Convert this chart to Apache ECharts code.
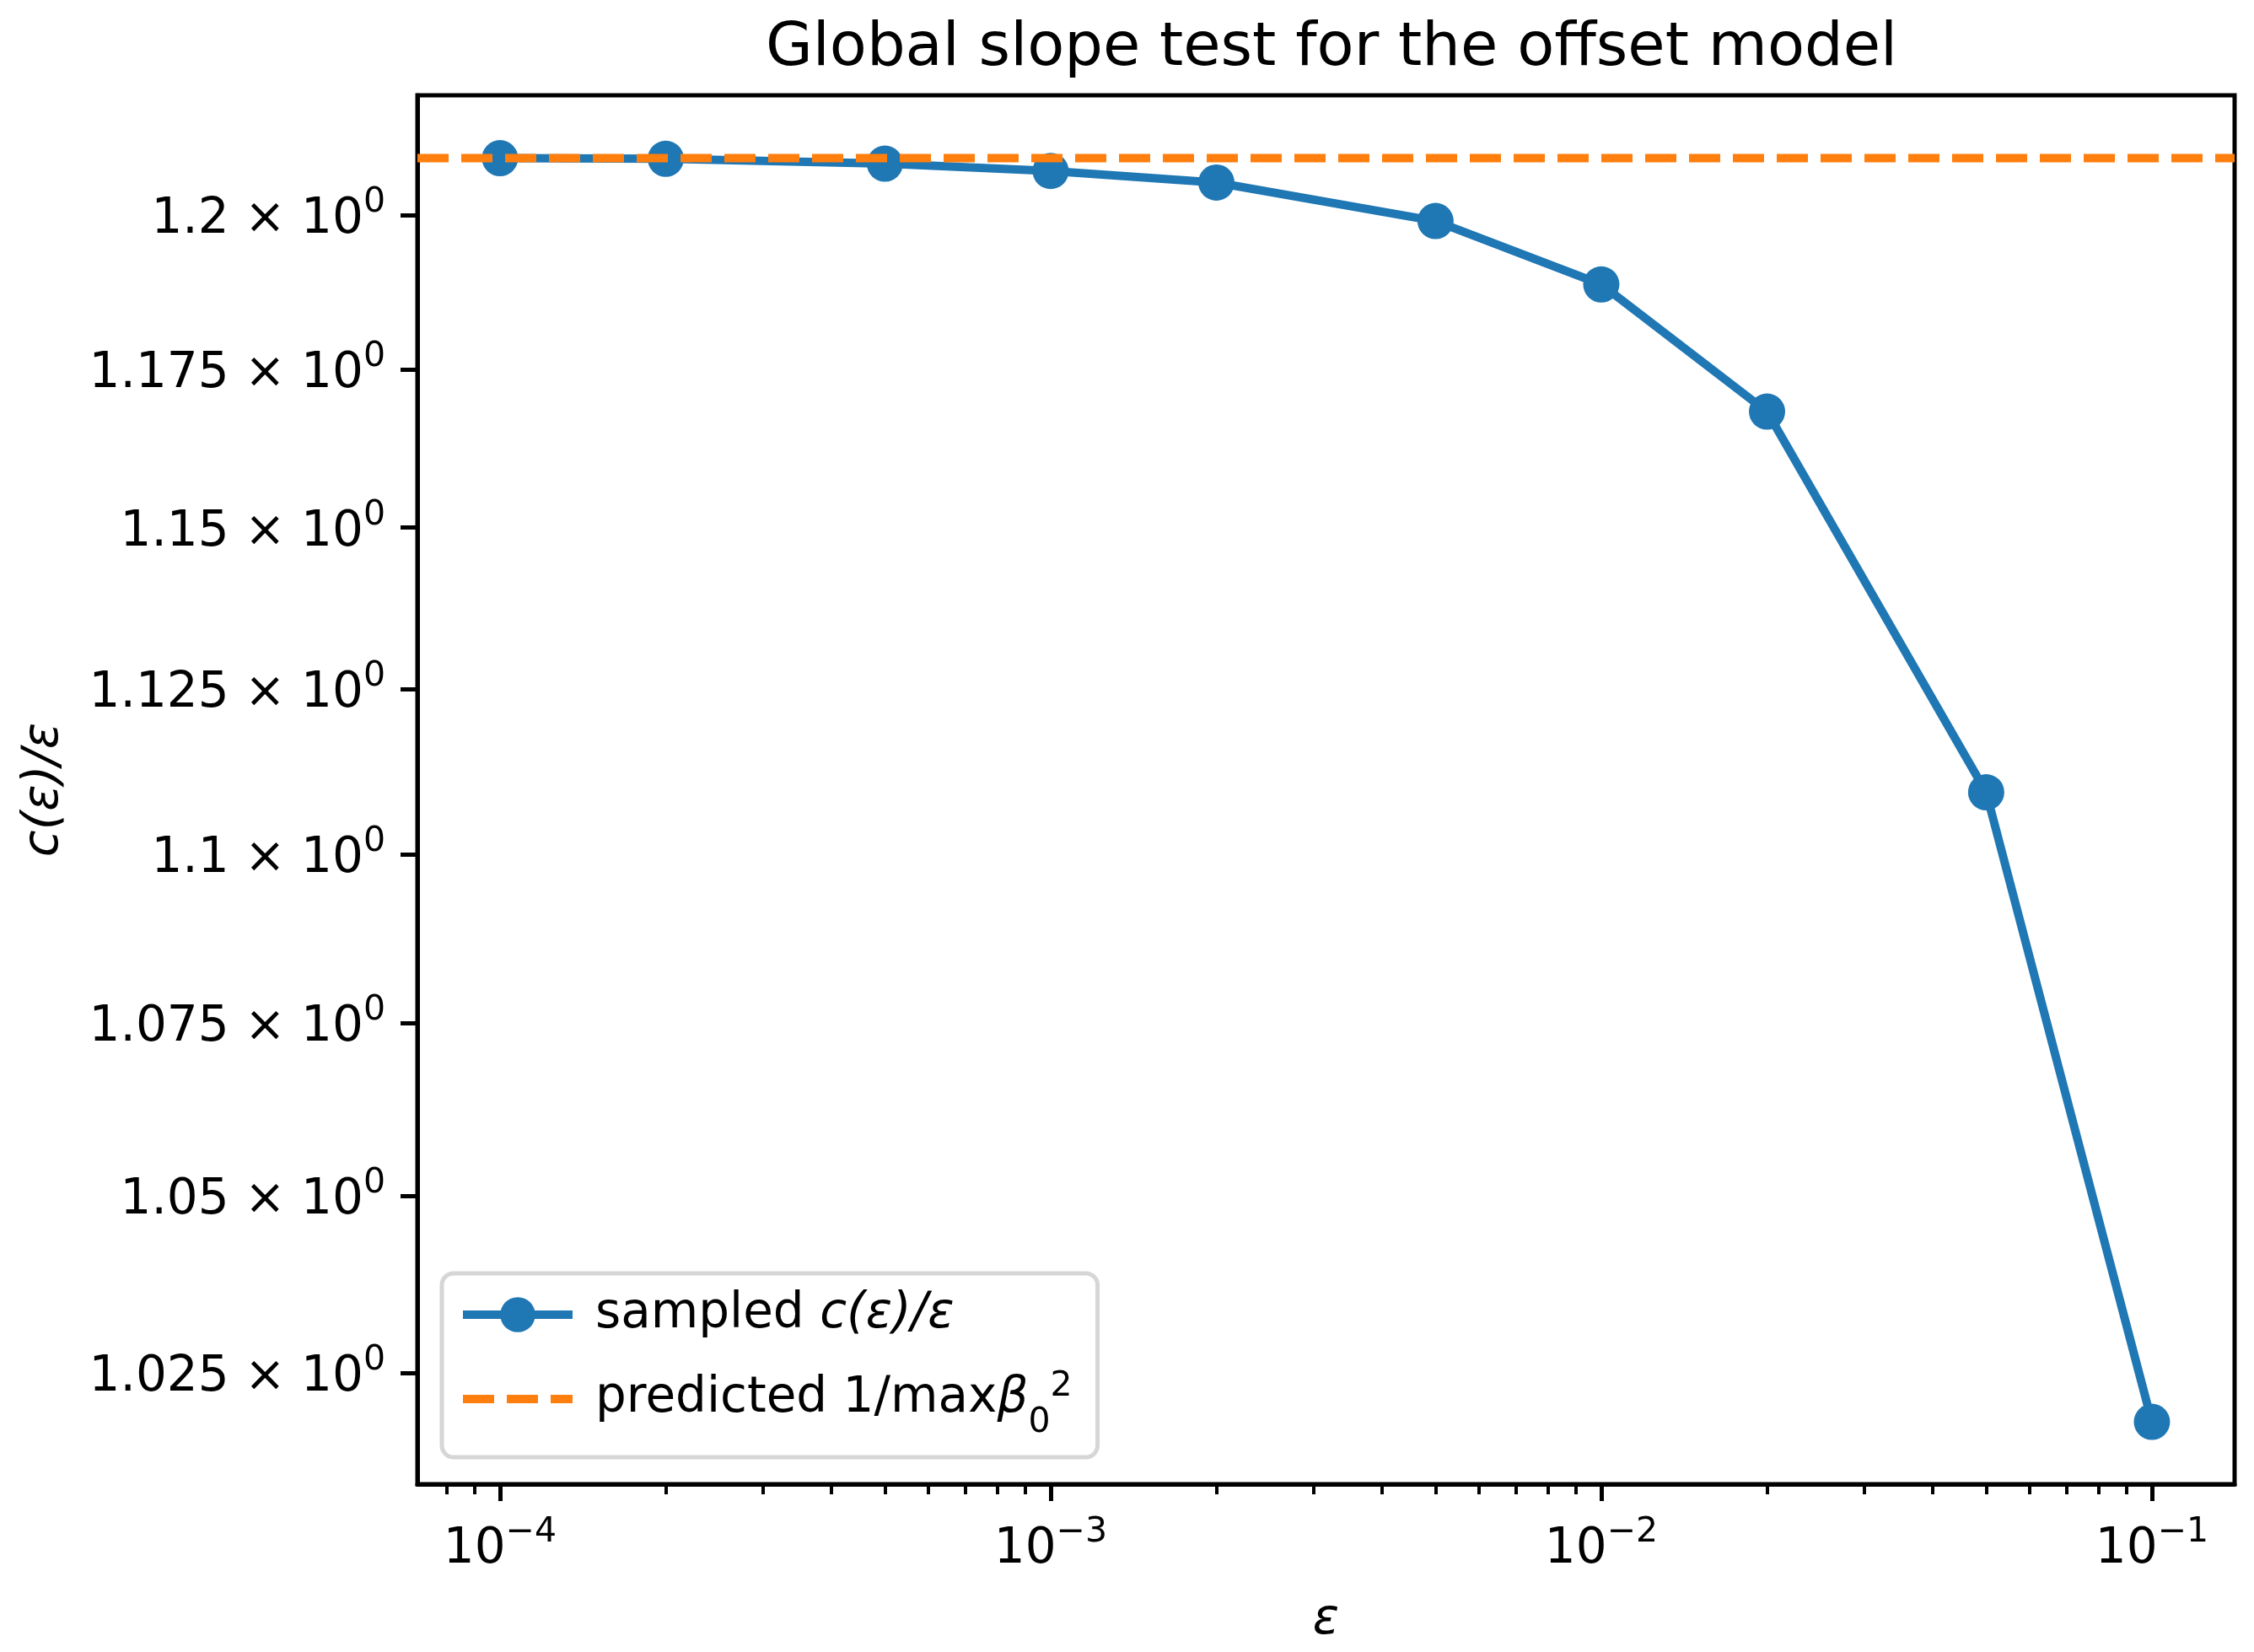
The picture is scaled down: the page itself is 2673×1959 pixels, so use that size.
<!DOCTYPE html>
<html>
<head>
<meta charset="utf-8">
<title>Global slope test for the offset model</title>
<script src="https://cdn.jsdelivr.net/npm/echarts@6/dist/echarts.min.js"></script>
<style>
  html, body { margin: 0; padding: 0; background: #fff; }
  #chart { width: 2673px; height: 1959px; }
</style>
</head>
<body>
<div id="chart"></div>
<script>
  // values
  var epsValues = [1e-4, 2e-4, 5e-4, 1e-3, 2e-3, 5e-3, 1e-2, 2e-2, 5e-2, 1e-1];
  var sampledRatio = [1.2093, 1.2092, 1.2084, 1.2072, 1.2053, 1.1990, 1.1887, 1.1683, 1.1093, 1.0182];
  var predictedRatio = 1.2093;

  // axes
  var xMajorTicks = [1e-4, 1e-3, 1e-2, 1e-1];
  var yTicks = [1.025, 1.05, 1.075, 1.1, 1.125, 1.15, 1.175, 1.2];
  var xLimits = [7.08e-5, 0.1413];
  var yLimits = [1.0096, 1.2197];

  // minor ticks 2..9 x 10^k inside the x range
  var xMinorTicks = [];
  [1e-5, 1e-4, 1e-3, 1e-2].forEach(function (d) {
    for (var m = 2; m <= 9; m++) {
      var v = m * d;
      if (v >= xLimits[0] && v <= xLimits[1]) xMinorTicks.push(v);
    }
  });

  var font = 'DejaVu Sans';
  var blue = '#1f77b4';
  var orange = '#ff7f0e';

  var supRich = {
    b: { fontSize: 58, fontFamily: font, color: '#000', lineHeight: 70, verticalAlign: 'bottom' },
    s: { fontSize: 41, fontFamily: font, color: '#000', lineHeight: 36, verticalAlign: 'top' }
  };

  var myChart = echarts.init(document.getElementById('chart'));

  var option = {
    animation: false,
    backgroundColor: '#fff',
    title: {
      text: 'Global slope test for the offset model',
      left: 1574,
      top: 17,
      textAlign: 'center',
      textStyle: { fontFamily: font, fontSize: 72, fontWeight: 'normal', color: '#000' }
    },
    grid: {
      left: 495, right: 23, top: 113, bottom: 199,
      show: true, borderColor: '#000', borderWidth: 5, backgroundColor: 'transparent'
    },
    legend: {
      orient: 'vertical',
      left: 524, top: 1510,
      padding: [20, 30, 20, 20],
      itemGap: 36,
      itemWidth: 130, itemHeight: 52,
      backgroundColor: 'rgba(255,255,255,0.8)',
      borderColor: '#d6d6d6', borderWidth: 5, borderRadius: 14,
      lineStyle: { width: 10 },
      data: [
        { name: 'sampled' },
        { name: 'predicted', itemStyle: { opacity: 0 } }
      ],
      formatter: function (name) {
        if (name === 'sampled') return '{t|sampled }{i|c(ε)/ε}';
        return '{t|predicted 1/max}{i|β}{sub|0}{sup|2}';
      },
      textStyle: {
        padding: [0, 0, 0, 22],
        rich: {
          t: { fontSize: 58, fontFamily: font, color: '#000', lineHeight: 70 },
          i: { fontSize: 58, fontFamily: font, fontStyle: 'italic', color: '#000', lineHeight: 70 },
          sub: { fontSize: 41, fontFamily: font, color: '#000', lineHeight: 70, verticalAlign: 'bottom', padding: [0, 0, -14, 0] },
          sup: { fontSize: 41, fontFamily: font, color: '#000', lineHeight: 36, verticalAlign: 'top' }
        }
      }
    },
    xAxis: [{
      type: 'log',
      min: xLimits[0], max: xLimits[1],
      name: 'ε',
      nameLocation: 'middle',
      nameGap: 133,
      nameTextStyle: { fontFamily: font, fontSize: 58, fontStyle: 'italic', color: '#000' },
      axisLine: { show: true, lineStyle: { color: '#000', width: 5 } },
      axisTick: { show: true, length: 20, lineStyle: { color: '#000', width: 5 }, customValues: xMajorTicks },
      axisLabel: {
        margin: 37,
        customValues: xMajorTicks,
        formatter: function (v) {
          var e = Math.round(Math.log10(v));
          return '{b|10}{s|\u2212' + Math.abs(e) + '}';
        },
        rich: supRich
      },
      splitLine: { show: false },
      minorTick: { show: false }
    }, {
      type: 'log',
      position: 'bottom',
      min: xLimits[0], max: xLimits[1],
      axisLine: { show: false },
      axisTick: { show: true, length: 12, lineStyle: { color: '#000', width: 4 }, customValues: xMinorTicks },
      axisLabel: { show: false },
      splitLine: { show: false }
    }],
    yAxis: {
      type: 'log',
      min: yLimits[0], max: yLimits[1],
      name: 'c(ε)/ε',
      nameLocation: 'middle',
      nameGap: 413,
      nameRotate: 90,
      nameTextStyle: { fontFamily: font, fontSize: 58, fontStyle: 'italic', color: '#000' },
      axisLine: { show: true, lineStyle: { color: '#000', width: 5 } },
      axisTick: { show: true, length: 20, lineStyle: { color: '#000', width: 5 }, customValues: yTicks },
      axisLabel: {
        margin: 38,
        customValues: yTicks,
        formatter: function (v) {
          return '{b|' + parseFloat(v.toFixed(3)) + ' × 10}{s|0}';
        },
        rich: supRich
      },
      splitLine: { show: false }
    },
    series: [{
      name: 'sampled',
      type: 'line',
      xAxisIndex: 0,
      data: epsValues.map(function (x, i) { return [x, sampledRatio[i]]; }),
      symbol: 'circle',
      symbolSize: 43,
      showSymbol: true,
      lineStyle: { color: blue, width: 10 },
      itemStyle: { color: blue },
      z: 3
    }, {
      // horizontal reference level across the whole x range
      name: 'predicted',
      type: 'line',
      xAxisIndex: 0,
      data: [[xLimits[0], predictedRatio], [xLimits[1], predictedRatio]],
      symbol: 'none',
      lineStyle: { color: orange, width: 10, type: [37, 15] },
      itemStyle: { color: orange },
      z: 5
    }]
  };

  myChart.setOption(option);
</script>
</body>
</html>
